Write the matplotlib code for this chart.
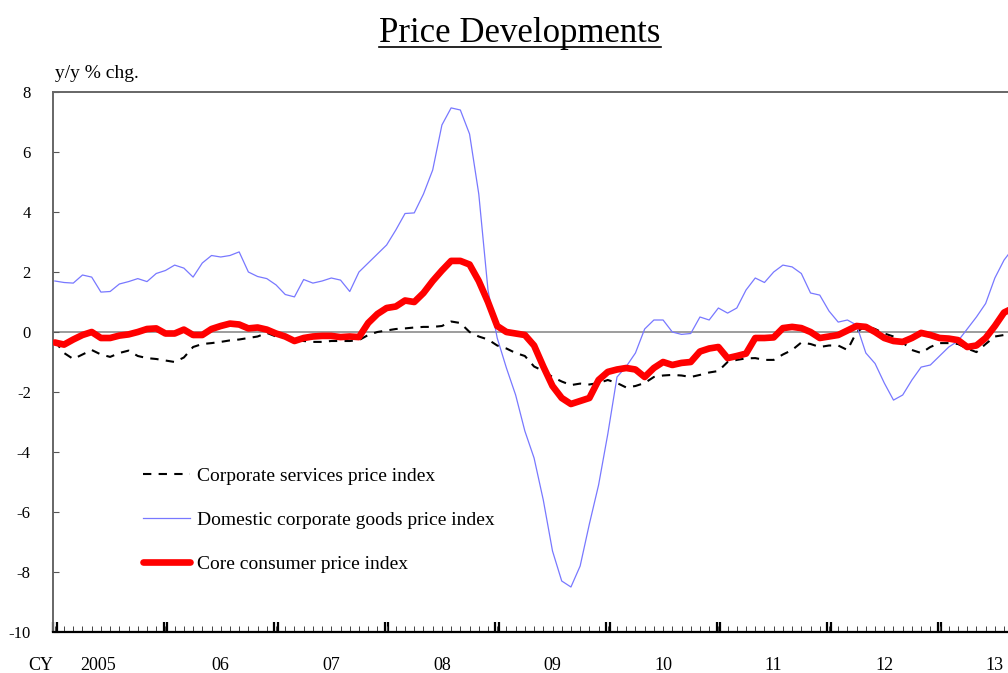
import numpy as np
import matplotlib
matplotlib.use("Agg")
import matplotlib.pyplot as plt
from matplotlib.lines import Line2D

plt.rcParams['font.family'] = ['Liberation Serif', 'DejaVu Serif']
plt.rcParams['axes.unicode_minus'] = False

# monthly y/y % changes, Jan 2005 onwards
services = [-0.3, -0.7, -0.9, -0.75, -0.6, -0.75, -0.83, -0.7, -0.62, -0.8, -0.87, -0.9,
            -0.95, -1.0, -0.85, -0.5, -0.4, -0.37, -0.33, -0.28, -0.25, -0.2, -0.15, -0.03,
            -0.15, -0.2, -0.25, -0.3, -0.33, -0.33, -0.3, -0.3, -0.3, -0.27, -0.1, 0.0,
            0.05, 0.1, 0.12, 0.15, 0.17, 0.17, 0.2, 0.35, 0.3, 0.0, -0.15, -0.25,
            -0.45, -0.55, -0.7, -0.8, -1.15, -1.3, -1.5, -1.65, -1.77, -1.72, -1.75, -1.7,
            -1.6, -1.7, -1.85, -1.8, -1.7, -1.5, -1.45, -1.43, -1.45, -1.5, -1.43, -1.35,
            -1.3, -1.0, -0.93, -0.88, -0.87, -0.93, -0.93, -0.75, -0.6, -0.35, -0.4, -0.5,
            -0.45, -0.45, -0.6, 0.0, 0.2, 0.1, -0.05, -0.15, -0.35, -0.6, -0.7, -0.5,
            -0.37, -0.37, -0.4, -0.55, -0.67, -0.4, -0.15, -0.1, -0.1]
goods = [1.7, 1.65, 1.63, 1.9, 1.83, 1.33, 1.35, 1.6, 1.68, 1.78, 1.68, 1.95,
         2.05, 2.23, 2.13, 1.83, 2.3, 2.55, 2.5, 2.55, 2.67, 2.0, 1.85, 1.78,
         1.57, 1.25, 1.17, 1.75, 1.63, 1.7, 1.8, 1.73, 1.35, 2.0, 2.3, 2.6,
         2.9, 3.4, 3.95, 3.97, 4.6, 5.4, 6.9, 7.47, 7.4, 6.6, 4.6, 1.4,
         -0.2, -1.2, -2.1, -3.3, -4.2, -5.6, -7.3, -8.3, -8.5, -7.8, -6.4, -5.1,
         -3.4, -1.5, -1.15, -0.7, 0.1, 0.4, 0.4, 0.0, -0.08, -0.05, 0.5, 0.4,
         0.8, 0.63, 0.8, 1.4, 1.8, 1.65, 2.0, 2.23, 2.17, 1.95, 1.3, 1.23,
         0.7, 0.33, 0.4, 0.23, -0.7, -1.05, -1.7, -2.27, -2.1, -1.6, -1.17, -1.1,
         -0.8, -0.5, -0.3, 0.1, 0.5, 0.95, 1.8, 2.4, 2.8]
core_cpi = [-0.35, -0.42, -0.25, -0.1, 0.0, -0.2, -0.2, -0.12, -0.08, 0.0, 0.1, 0.12,
            -0.05, -0.05, 0.08, -0.1, -0.1, 0.1, 0.2, 0.28, 0.25, 0.12, 0.15, 0.08,
            -0.05, -0.15, -0.3, -0.2, -0.15, -0.13, -0.13, -0.17, -0.15, -0.17, 0.3, 0.6,
            0.8, 0.85, 1.05, 1.0, 1.3, 1.7, 2.05, 2.37, 2.37, 2.25, 1.7, 1.0,
            0.2, 0.0, -0.05, -0.1, -0.45, -1.15, -1.8, -2.2, -2.4, -2.3, -2.2, -1.6,
            -1.33, -1.25, -1.2, -1.25, -1.5, -1.2, -1.0, -1.1, -1.03, -1.0, -0.65, -0.55,
            -0.5, -0.87, -0.8, -0.72, -0.2, -0.2, -0.18, 0.13, 0.17, 0.13, 0.0, -0.2,
            -0.15, -0.1, 0.05, 0.2, 0.17, 0.0, -0.2, -0.3, -0.33, -0.2, -0.03, -0.1,
            -0.2, -0.22, -0.27, -0.5, -0.45, -0.2, 0.2, 0.65, 0.8]
year_labels = ['2005', '06', '07', '08', '09', '10', '11', '12', '13']

fig = plt.figure(figsize=(10.08, 6.73), dpi=100)
W, H = 1008, 673
ax = fig.add_axes([53 / W, 41 / H, 999 / W, 540 / H])

months = np.arange(len(services))
ax.axhline(0, color='#8c8c8c', lw=1.2, zorder=1)
ax.plot(months, services, color='black', lw=1.5, dashes=(4, 3.5),
        label='Corporate services price index', zorder=2)
ax.plot(np.arange(len(goods)), goods, color='#7878ff', lw=0.9,
        label='Domestic corporate goods price index', zorder=3)
ax.plot(np.arange(len(core_cpi)), core_cpi, color='#ff0000', lw=4.8,
        solid_capstyle='round', solid_joinstyle='round',
        label='Core consumer price index', zorder=4)

ax.set_xlim(0, 108)
ax.set_ylim(-10, 8)
ax.set_yticks(np.arange(-10, 9, 2))
ax.tick_params(axis='y', direction='in', length=4, width=0.8, pad=16,
               labelsize=12, colors='#555555', labelcolor='black')

# monthly minor ticks, doubled heavy ticks at the year boundaries
yb = np.arange(0, 109, 12)
ax.set_xticks(np.sort(np.concatenate([yb - 0.2, yb + 0.2])))
ax.set_xticklabels([])
ax.set_xticks(np.arange(0, 109), minor=True)
ax.tick_params(axis='x', which='major', direction='in', length=7, width=1.6, color='black')
ax.tick_params(axis='x', which='minor', direction='in', length=4, width=0.7, color='#444444')

label_pos = [4.7] + [12 * i + 6 for i in range(1, len(year_labels))]
for xp, lab in zip(label_pos, year_labels):
    ax.text(xp, -11.1, lab, ha='center', va='center', fontsize=13)
fig.text(28 / W, (H - 665) / H, 'CY', ha='left', va='center', fontsize=13)

for s in ['left', 'top']:
    ax.spines[s].set_color('#666666')
    ax.spines[s].set_linewidth(1.4)
ax.spines['bottom'].set_color('black')
ax.spines['bottom'].set_linewidth(1.6)
ax.spines['right'].set_visible(False)

fig.text(55 / W, (H - 73) / H, 'y/y % chg.', ha='left', va='center', fontsize=14)

leg = ax.legend(loc='upper left', bbox_to_anchor=(143 / W, (H - 467) / H),
                bbox_transform=fig.transFigure, frameon=False, fontsize=14,
                handlelength=2.4, handletextpad=0.36, labelspacing=1.37,
                borderpad=0, borderaxespad=0)

title = fig.text(520 / W, (H - 42) / H, 'Price Developments', ha='center',
                 va='baseline', fontsize=25)
fig.canvas.draw()
bb = title.get_window_extent()
uy = (H - 47) / H
fig.add_artist(Line2D([bb.x0 / W, bb.x1 / W], [uy, uy], color='black', lw=1.2))

fig.savefig('out.png', dpi=100)
